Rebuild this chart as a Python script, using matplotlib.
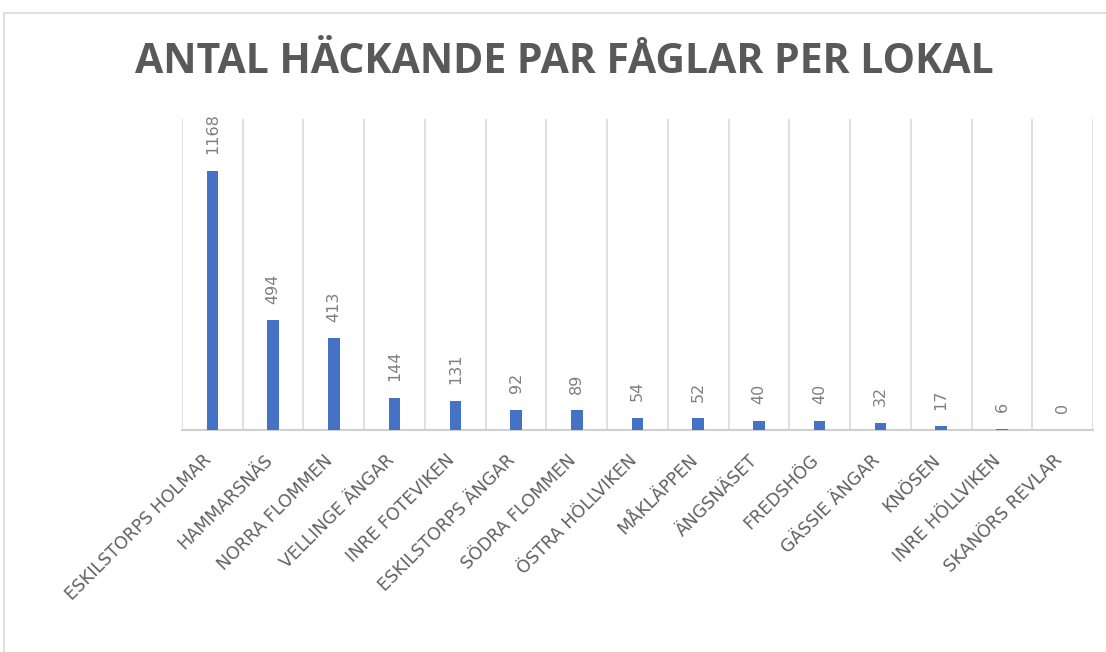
import matplotlib
matplotlib.use("Agg")
import matplotlib.pyplot as plt
import matplotlib.transforms as mtransforms
from matplotlib.patches import Rectangle

# Breeding pairs of birds per site
sites = [
    "ESKILSTORPS HOLMAR", "HAMMARSNÄS", "NORRA FLOMMEN", "VELLINGE ÄNGAR",
    "INRE FOTEVIKEN", "ESKILSTORPS ÄNGAR", "SÖDRA FLOMMEN", "ÖSTRA HÖLLVIKEN",
    "MÅKLÄPPEN", "ÄNGSNÄSET", "FREDSHÖG", "GÄSSIE ÄNGAR", "KNÖSEN",
    "INRE HÖLLVIKEN", "SKANÖRS REVLAR",
]
pairs = [1168, 494, 413, 144, 131, 92, 89, 54, 52, 40, 40, 32, 17, 6, 0]
title = "ANTAL HÄCKANDE PAR FÅGLAR PER LOKAL"

W, H = 1106, 652
fig = plt.figure(figsize=(W / 100, H / 100), dpi=100)
fig.patch.set_facecolor("white")

# chart frame
fig.patches.append(Rectangle((4 / W, -0.1), 2.0, 0.1 + 1 - 13 / H,
                             transform=fig.transFigure, fill=False,
                             edgecolor="#d9d9d9", linewidth=1.2))

ax = fig.add_axes([182 / W, 1 - 430 / H, (1093 - 182) / W, (430 - 119) / H])
x = list(range(len(sites)))
ax.bar(x, pairs, width=0.19, color="#4472C4", zorder=3)

ax.set_xlim(-0.5, len(sites) - 0.5)
ax.set_ylim(0, 1400)

# vertical gridlines between categories
for b in range(len(sites) + 1):
    ax.axvline(b - 0.5, color="#d9d9d9", linewidth=1.2, zorder=1)

for s in ["top", "right", "left"]:
    ax.spines[s].set_visible(False)
ax.spines["bottom"].set_color("#d0d0d0")
ax.spines["bottom"].set_linewidth(1.5)
ax.set_yticks([])
ax.tick_params(axis="x", length=0, pad=0)
ax.set_xticks(x)
labels = ax.set_xticklabels(sites, rotation=45, ha="right", va="baseline",
                            rotation_mode="anchor", fontsize=12.5,
                            color="#606060", family="DejaVu Sans")
# rotated labels end right under each category centre
offset = mtransforms.ScaledTranslation(0.0, -0.31, fig.dpi_scale_trans)
for lab in labels:
    lab.set_transform(lab.get_transform() + offset)

# value labels above bars
for xi, v in zip(x, pairs):
    ax.annotate(str(v), xy=(xi, v), xytext=(0, 12), textcoords="offset points",
                rotation=90, ha="center", va="bottom", fontsize=11.5,
                color="#7f7f7f", family="DejaVu Sans")

fig.text(564 / W, 1 - 73 / H, title, ha="center", va="baseline",
         fontsize=29.5, fontweight="bold", color="#595959", family="Open Sans")

fig.savefig("out.png", dpi=100)
